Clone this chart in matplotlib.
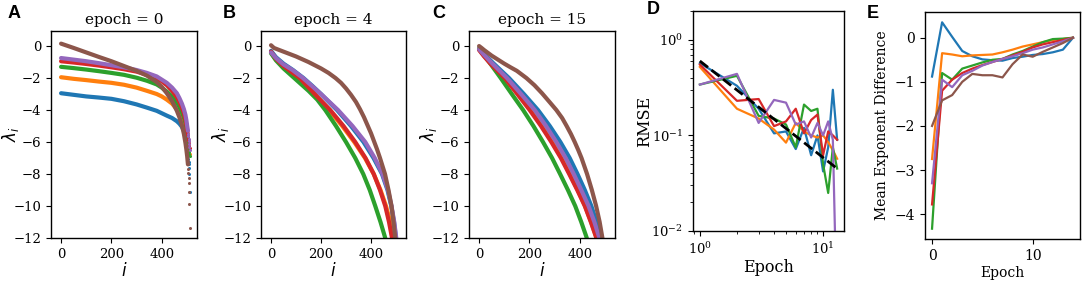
import matplotlib
matplotlib.use('Agg')
import matplotlib.pyplot as plt

plt.rcParams['font.family'] = 'DejaVu Serif'
plt.rcParams['axes.linewidth'] = 1.0

colors = ['#1f77b4', '#ff7f0e', '#2ca02c', '#d62728', '#9467bd', '#8c564b']

# ---- panel A : spectrum at epoch 0 (common index grid + scattered tail)
iA = [0, 50, 100, 150, 200, 250, 300, 341, 380, 400, 420, 441, 460, 470, 480, 488, 494, 498, 501, 504]
iA_tail = [505, 506, 507, 508, 509, 510, 511]
lamA = [
    [-2.95, -3.05, -3.15, -3.22, -3.3, -3.45, -3.65, -3.85, -4.05, -4.2, -4.35, -4.5, -4.7, -4.85, -5.05, -5.3, -5.6, -5.95, -6.3, -6.6],
    [-1.95, -2.05, -2.13, -2.22, -2.3, -2.42, -2.6, -2.8, -3.0, -3.15, -3.35, -3.6, -3.95, -4.2, -4.5, -4.85, -5.2, -5.55, -5.85, -6.05],
    [-1.3, -1.38, -1.47, -1.57, -1.68, -1.8, -1.98, -2.17, -2.4, -2.6, -2.85, -3.15, -3.55, -3.8, -4.15, -4.45, -4.8, -5.15, -5.5, -5.8],
    [-0.95, -1.03, -1.12, -1.22, -1.33, -1.45, -1.6, -1.8, -2.02, -2.2, -2.45, -2.8, -3.2, -3.5, -3.85, -4.2, -4.6, -4.95, -5.3, -5.6],
    [-0.75, -0.85, -0.95, -1.07, -1.2, -1.33, -1.5, -1.68, -1.9, -2.1, -2.3, -2.6, -2.95, -3.25, -3.6, -3.95, -4.3, -4.65, -5.0, -5.3],
    [0.15, -0.12, -0.4, -0.68, -0.95, -1.25, -1.55, -1.85, -2.25, -2.55, -2.95, -3.45, -4.05, -4.45, -4.95, -5.5, -6.05, -6.5, -6.9, -7.4],
]
lamA_tail = [
    [-6.85, -7.05, -7.25, -7.4, -7.6, -8.0, -9.15],
    [-6.15, -6.25, -6.35, -6.45, -6.55, -6.65, -6.75],
    [-6.0, -6.15, -6.3, -6.45, -6.6, -6.75, -6.9],
    [-5.75, -5.85, -5.95, -6.05, -6.15, -6.25, -6.35],
    [-5.5, -5.65, -5.8, -5.95, -6.1, -6.3, -6.5],
    [-7.66, -7.94, -8.22, -8.56, -9.1, -9.9, -11.4],
]

# ---- panel B : epoch 4  (index, eigenvalue) pairs per run
iB = [
    [0, 20, 50, 88, 130, 166, 200, 232, 264, 320, 370, 410, 444, 466, 481, 492, 500],
    [0, 20, 50, 78, 112, 142, 172, 202, 232, 285, 333, 376, 411, 438, 460, 477, 490],
    [0, 20, 50, 100, 150, 185, 217, 260, 300, 337, 369, 395, 417, 438, 457],
    [0, 20, 50, 80, 115, 145, 175, 206, 237, 290, 337, 378, 411, 436, 457, 472, 484],
    [0, 20, 50, 86, 128, 164, 200, 234, 268, 326, 377, 415, 446, 468, 482, 493, 501],
    [0, 12, 25, 50, 100, 150, 200, 230, 258, 280, 300, 320, 340, 356, 372, 386, 400,
     412, 424, 436, 456, 470, 482, 490, 497],
]
lamB = [
    [-0.3, -0.7, -1.1, -1.5, -2, -2.5, -3, -3.5, -4, -5, -6, -7, -8, -9, -10, -11, -12],
    [-0.4, -0.85, -1.3, -1.6, -2, -2.5, -3, -3.5, -4, -5, -6, -7, -8, -9, -10, -11, -12],
    [-0.45, -0.9, -1.4, -2.1, -2.8, -3.35, -4, -5, -6, -7, -8, -9, -10, -11, -12],
    [-0.35, -0.8, -1.25, -1.6, -2, -2.5, -3, -3.5, -4, -5, -6, -7, -8, -9, -10, -11, -12],
    [-0.4, -0.75, -1.15, -1.5, -2, -2.5, -3, -3.5, -4, -5, -6, -7, -8, -9, -10, -11, -12],
    [0.05, -0.12, -0.2, -0.35, -0.65, -1.0, -1.4, -1.68, -2.0, -2.3, -2.65, -3.05, -3.5,
     -3.95, -4.45, -4.95, -5.45, -5.95, -6.45, -7, -8, -9, -10, -11, -12],
]

# ---- panel C : epoch 15
iC = [
    [0, 20, 55, 119, 178, 234, 281, 323, 360, 391, 420, 446, 467, 484],
    [0, 20, 45, 105, 155, 205, 250, 291, 329, 361, 392, 421, 445, 467],
    [0, 20, 40, 86, 130, 175, 216, 254, 290, 322, 353, 382, 406, 428],
    [0, 20, 45, 102, 152, 201, 246, 287, 325, 358, 390, 420, 444, 466],
    [0, 20, 50, 111, 167, 221, 266, 307, 344, 376, 406, 435, 458, 478],
    [0, 10, 20, 50, 75, 100, 125, 150, 188, 220, 250, 280, 307, 330, 348, 365, 380,
     394, 407, 429, 448, 465, 479, 490],
]
lamC = [
    [-0.15, -0.5, -1.05, -2, -3, -4, -5, -6, -7, -8, -9, -10, -11, -12],
    [-0.2, -0.6, -1.05, -2, -3, -4, -5, -6, -7, -8, -9, -10, -11, -12],
    [-0.2, -0.6, -1.0, -2, -3, -4, -5, -6, -7, -8, -9, -10, -11, -12],
    [-0.25, -0.65, -1.1, -2, -3, -4, -5, -6, -7, -8, -9, -10, -11, -12],
    [-0.2, -0.55, -1.05, -2, -3, -4, -5, -6, -7, -8, -9, -10, -11, -12],
    [0.0, -0.12, -0.25, -0.6, -0.85, -1.1, -1.33, -1.55, -2, -2.45, -2.95, -3.5, -4,
     -4.5, -5, -5.5, -6, -6.5, -7, -8, -9, -10, -11, -12],
]

# ---- panel D : RMSE per epoch
epochs_D = [1, 2, 3, 4, 5, 6, 7, 8, 9, 10, 11, 12, 13]
rmse = [
    [0.57, 0.33, 0.19, 0.105, 0.11, 0.072, 0.12, 0.062, 0.10, 0.042, 0.075, 0.30, 0.09],
    [0.52, 0.19, 0.15, 0.115, 0.084, 0.135, 0.11, 0.10, 0.095, 0.10, 0.085, 0.07, 0.057],
    [0.34, 0.42, 0.16, 0.15, 0.13, 0.075, 0.21, 0.18, 0.19, 0.05, 0.025, 0.075, 0.045],
    [0.55, 0.23, 0.24, 0.125, 0.14, 0.19, 0.105, 0.145, 0.165, 0.062, 0.11, 0.10, 0.09],
    [0.34, 0.44, 0.135, 0.235, 0.22, 0.13, 0.14, 0.095, 0.135, 0.10, 0.14, 0.09, 0.001],
]
fit_x = [1, 13]
fit_y = [0.6, 0.045]

# ---- panel E : mean exponent difference
epochs_E = list(range(15))
med = [
    [-0.88, 0.35, 0.02, -0.3, -0.42, -0.49, -0.51, -0.52, -0.46, -0.43, -0.39, -0.37, -0.33, -0.27, 0.0],
    [-2.75, -0.35, -0.38, -0.42, -0.4, -0.39, -0.38, -0.33, -0.27, -0.2, -0.15, -0.1, -0.05, -0.03, 0.0],
    [-4.33, -0.8, -0.95, -0.7, -0.63, -0.56, -0.5, -0.48, -0.38, -0.3, -0.2, -0.1, -0.03, -0.02, 0.0],
    [-3.78, -1.2, -0.95, -0.8, -0.7, -0.62, -0.55, -0.48, -0.4, -0.32, -0.22, -0.15, -0.1, -0.05, 0.0],
    [-3.3, -0.95, -1.12, -0.85, -0.75, -0.63, -0.55, -0.48, -0.42, -0.35, -0.27, -0.22, -0.15, -0.08, 0.0],
    [-2.0, -1.42, -1.3, -1.0, -0.82, -0.85, -0.85, -0.9, -0.6, -0.38, -0.43, -0.32, -0.22, -0.12, 0.0],
]

W, H = 1084, 285
fig = plt.figure(figsize=(W / 100, H / 100), dpi=100)


def add_ax(left, right, top, bottom):
    # pixel box -> figure fraction
    return fig.add_axes([left / W, 1 - bottom / H, (right - left) / W, (bottom - top) / H])


axA = add_ax(51, 197, 31, 238)
axB = add_ax(261, 406, 31, 238)
axC = add_ax(469, 615, 31, 238)
axD = add_ax(693, 844, 11, 231)
axE = add_ax(925, 1080, 12, 239)

for k in range(6):
    axA.plot(iA, lamA[k], color=colors[k], lw=3, solid_capstyle='round', solid_joinstyle='round')
    axA.plot(iA_tail, lamA_tail[k], 'o', color=colors[k], ms=2.2, mew=0)
for k in range(6):
    axB.plot(iB[k], lamB[k], color=colors[k], lw=3, solid_capstyle='round', solid_joinstyle='round')
    axC.plot(iC[k], lamC[k], color=colors[k], lw=3, solid_capstyle='round', solid_joinstyle='round')

for ax, ep in zip([axA, axB, axC], [0, 4, 15]):
    ax.set_xlim(-40, 540)
    ax.set_ylim(-12, 0.94)
    ax.set_xticks([0, 200, 400])
    ax.set_yticks([0, -2, -4, -6, -8, -10, -12])
    ax.tick_params(labelsize=9.5)
    ax.set_title('epoch = %d' % ep, fontsize=11, pad=5)
    ax.set_xlabel('$i$', fontsize=12, labelpad=1)
    ax.set_ylabel('$\\lambda_i$', fontsize=12)
    ax.yaxis.set_label_coords(-0.205, 0.5)

for k in range(5):
    axD.plot(epochs_D, rmse[k], color=colors[k], lw=1.6)
axD.plot(fit_x, fit_y, '--', color='black', lw=2)
axD.set_xscale('log')
axD.set_yscale('log')
axD.set_ylim(1e-2, 2)
axD.tick_params(labelsize=9.5)
axD.set_xlabel('Epoch', fontsize=11.5, labelpad=2)
axD.set_ylabel('RMSE', fontsize=11.5)
axD.yaxis.set_label_coords(-0.265, 0.5)

for k in range(6):
    axE.plot(epochs_E, med[k], color=colors[k], lw=1.6)
axE.set_xticks([0, 10])
axE.set_yticks([0, -1, -2, -3, -4])
axE.tick_params(labelsize=10)
axE.set_xlabel('Epoch', fontsize=10, labelpad=2)
axE.set_ylabel('Mean Exponent Difference', fontsize=10, labelpad=4)

for lab, x, y in [('A', 8, 5), ('B', 223, 5), ('C', 432, 5), ('D', 647, 1), ('E', 867, 5)]:
    fig.text(x / W, 1 - y / H, lab, fontsize=13, fontweight='bold',
             family='Liberation Sans', va='top', ha='left')

plt.savefig('out.png', dpi=100)
